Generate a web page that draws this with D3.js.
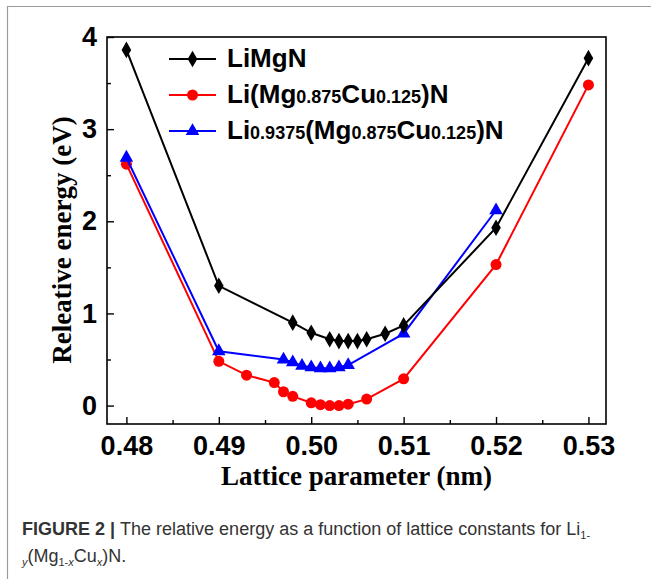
<!DOCTYPE html>
<html>
<head>
<meta charset="utf-8">
<script src="https://cdn.jsdelivr.net/npm/d3@7"></script>
<style>
  body { margin: 0; background: #fff; }
  svg { display: block; }
</style>
</head>
<body>
<div id="chart"></div>
<script>
// lattice parameter (nm) and relative energy (eV) for each structure
var xLiMgN = [0.48, 0.49, 0.498, 0.50, 0.502, 0.503, 0.504, 0.505, 0.506, 0.508, 0.51, 0.52, 0.53];
var eLiMgN = [3.86, 1.30, 0.90, 0.79, 0.72, 0.70, 0.70, 0.70, 0.72, 0.78, 0.87, 1.93, 3.77];

var xCu = [0.48, 0.49, 0.493, 0.496, 0.497, 0.498, 0.50, 0.501, 0.502, 0.503, 0.504, 0.506, 0.51, 0.52, 0.53];
var eCu = [2.62, 0.48, 0.33, 0.25, 0.15, 0.10, 0.03, 0.01, 0.0, 0.0, 0.015, 0.07, 0.29, 1.53, 3.48];

var xCuLi = [0.48, 0.49, 0.497, 0.498, 0.499, 0.50, 0.501, 0.502, 0.503, 0.504, 0.51, 0.52];
var eCuLi = [2.69, 0.59, 0.50, 0.47, 0.43, 0.415, 0.405, 0.405, 0.415, 0.44, 0.78, 2.12];

var xTicks = [0.48, 0.49, 0.50, 0.51, 0.52, 0.53];
var yTicks = [0, 1, 2, 3, 4];

var W = 651, H = 579;
var margin = {top: 37, right: 45, bottom: 155, left: 107},
    width = W - margin.left - margin.right,
    height = H - margin.top - margin.bottom;

var svg = d3.select("#chart").append("svg")
    .attr("width", W)
    .attr("height", H);

// card frame of the figure
svg.append("path")
    .attr("d", "M7.5," + H + "V6.5H" + W)
    .attr("fill", "none")
    .attr("stroke", "#9b9b9b")
    .attr("stroke-width", 1.2);

var g = svg.append("g")
    .attr("transform", "translate(" + margin.left + "," + margin.top + ")");

var x = d3.scaleLinear().domain([0.4779, 0.5319]).range([0, width]);
var y = d3.scaleLinear().domain([-0.2, 4.0]).range([height, 0]);

// minor ticks first (inward, short)
var xAxisMinor = d3.axisBottom(x).tickValues(d3.range(0.485, 0.531, 0.01)).tickSize(-4).tickFormat("");
var yAxisMinor = d3.axisLeft(y).tickValues([0.5, 1.5, 2.5, 3.5]).tickSize(-4).tickFormat("");
g.append("g").attr("transform", "translate(0," + height + ")").call(xAxisMinor);
g.append("g").call(yAxisMinor);

var xAxis = g.append("g")
    .attr("transform", "translate(0," + height + ")")
    .call(d3.axisBottom(x).tickValues(xTicks).tickSize(-7).tickPadding(13)
      .tickFormat(d3.format(".2f")));
var yAxis = g.append("g")
    .call(d3.axisLeft(y).tickValues(yTicks).tickSize(-7).tickPadding(10)
      .tickFormat(d3.format("d")));

g.selectAll(".domain").remove();
g.selectAll(".tick line").attr("stroke", "#000").attr("stroke-width", 1.4);
g.selectAll(".tick text")
    .attr("fill", "#000")
    .style("font-family", "'Liberation Sans', Arial, sans-serif")
    .style("font-weight", "bold")
    .style("font-size", "27px");
xAxis.selectAll(".tick text").attr("dy", "0.68em");

// frame around the plot
g.append("rect")
    .attr("width", width)
    .attr("height", height)
    .attr("fill", "none")
    .attr("stroke", "#000")
    .attr("stroke-width", 1.6);

var series = [
  {name: "cu", xs: xCu, ys: eCu, color: "#ff0000", sym: d3.symbolCircle, size: 95},
  {name: "culi", xs: xCuLi, ys: eCuLi, color: "#0000ff", sym: d3.symbolTriangle, size: 80},
  {name: "limgn", xs: xLiMgN, ys: eLiMgN, color: "#000000", sym: d3.symbolDiamond, size: 80}
];

var line = d3.line()
    .x(function(d) { return x(d[0]); })
    .y(function(d) { return y(d[1]); });

series.forEach(function(s) {
  var pts = s.xs.map(function(v, i) { return [v, s.ys[i]]; });
  g.append("path")
    .datum(pts)
    .attr("d", line)
    .attr("fill", "none")
    .attr("stroke", s.color)
    .attr("stroke-width", 2);
  g.selectAll(".pt-" + s.name)
    .data(pts)
    .enter()
    .append("path")
      .attr("class", "pt-" + s.name)
      .attr("d", d3.symbol().type(s.sym).size(s.size))
      .attr("transform", function(d) { return "translate(" + x(d[0]) + "," + y(d[1]) + ")"; })
      .attr("fill", s.color);
});

// legend
var legend = [
  {color: "#000000", sym: d3.symbolDiamond, size: 80, parts: [["LiMgN", 0]]},
  {color: "#ff0000", sym: d3.symbolCircle, size: 95,
   parts: [["Li(Mg", 0], ["0.875", 1], ["Cu", 0], ["0.125", 1], [")N", 0]]},
  {color: "#0000ff", sym: d3.symbolTriangle, size: 80,
   parts: [["Li", 0], ["0.9375", 1], ["(Mg", 0], ["0.875", 1], ["Cu", 0], ["0.125", 1], [")N", 0]]}
];

var lg = svg.append("g").attr("transform", "translate(169,59)");
legend.forEach(function(l, i) {
  var row = lg.append("g").attr("transform", "translate(0," + (i * 36) + ")");
  row.append("line")
    .attr("x1", 0).attr("x2", 47)
    .attr("stroke", l.color).attr("stroke-width", 2);
  row.append("path")
    .attr("d", d3.symbol().type(l.sym).size(l.size))
    .attr("transform", "translate(23.5,0)")
    .attr("fill", l.color);
  var t = row.append("text")
    .attr("x", 58).attr("y", 8)
    .attr("fill", "#000")
    .style("font-family", "'Liberation Sans', Arial, sans-serif")
    .style("font-weight", "bold");
  l.parts.forEach(function(p) {
    t.append("tspan")
      .style("font-size", p[1] ? "18px" : "26px")
      .text(p[0]);
  });
});

// axis titles
svg.append("text")
    .attr("x", margin.left + width / 2)
    .attr("y", 485)
    .attr("text-anchor", "middle")
    .style("font-family", "'Liberation Serif', 'Times New Roman', serif")
    .style("font-weight", "bold")
    .style("font-size", "27px")
    .text("Lattice parameter (nm)");

svg.append("text")
    .attr("transform", "translate(71,240) rotate(-90)")
    .attr("text-anchor", "middle")
    .style("font-family", "'Liberation Serif', 'Times New Roman', serif")
    .style("font-weight", "bold")
    .style("font-size", "27px")
    .text("Releative energy (eV)");

// caption
var cap = svg.append("g")
    .style("font-family", "'Liberation Sans', Arial, sans-serif")
    .style("font-size", "18px")
    .attr("fill", "#333");
var c1 = cap.append("text").attr("x", 22).attr("y", 535);
c1.append("tspan").style("font-weight", "bold").text("FIGURE 2 | ");
c1.append("tspan").text("The relative energy as a function of lattice constants for Li");
c1.append("tspan").style("font-size", "11px").attr("dy", 4).text("1-");
var c2 = cap.append("text").attr("x", 22).attr("y", 562);
c2.append("tspan").style("font-size", "11px").style("font-style", "italic").attr("dy", 4).text("y");
c2.append("tspan").attr("dy", -4).text("(Mg");
c2.append("tspan").style("font-size", "11px").attr("dy", 4).text("1-");
c2.append("tspan").style("font-size", "11px").style("font-style", "italic").text("x");
c2.append("tspan").attr("dy", -4).text("Cu");
c2.append("tspan").style("font-size", "11px").style("font-style", "italic").attr("dy", 4).text("x");
c2.append("tspan").attr("dy", -4).text(")N.");
</script>
</body>
</html>
